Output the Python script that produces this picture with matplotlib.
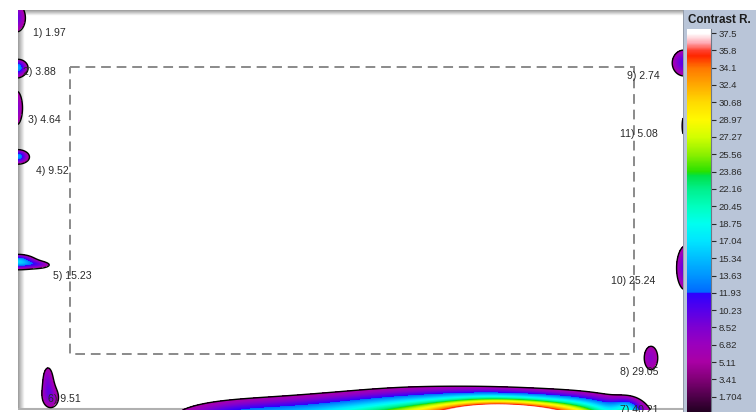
import numpy as np
import matplotlib
matplotlib.use("Agg")
import matplotlib.pyplot as plt
from matplotlib.colors import LinearSegmentedColormap
from matplotlib.patches import Rectangle

plt.rcParams['font.family'] = ['Liberation Sans', 'DejaVu Sans']

# ---- data -------------------------------------------------------------
# hotspot sources of the contrast field (image pixel coordinates)
spot_x = [16, 18, 16, 18, 18, 40, 48, 51, 230, 320, 420, 500, 575, 628, 651, 684, 686, 686]
spot_y = [18, 68, 108, 157, 262, 265, 378, 398, 418, 420, 420, 416, 418, 412, 358, 63, 268, 126]
spot_peak = [10, 14, 9, 14, 16, 7, 7, 7.5, 9, 14, 22, 40.21, 24, 10, 7.5, 10, 10, 8]
spot_sx = [8, 7, 6, 8, 12, 10, 5, 8, 45, 60, 55, 45, 42, 10, 7.5, 10, 8, 4]
spot_sy = [12, 6, 16, 5, 5, 3, 12, 10, 12, 16, 18, 13, 14, 9, 13, 11, 19, 13]

# measurement labels
label_text = ["1) 1.97", "2) 3.88", "3) 4.64", "4) 9.52", "5) 15.23", "6) 9.51",
              "7) 40.21", "8) 29.05", "9) 2.74", "10) 25.24", "11) 5.08"]
label_x = [33, 23, 28, 36, 53, 48, 620, 620, 627, 611, 620]
label_y = [33, 72, 120, 171, 276, 399, 410, 372, 76, 281, 134]

# colour-scale ticks
cbar_ticks = [37.5, 35.8, 34.1, 32.4, 30.68, 28.97, 27.27, 25.56, 23.86, 22.16, 20.45,
              18.75, 17.04, 15.34, 13.63, 11.93, 10.23, 8.52, 6.82, 5.11, 3.41, 1.704, 0.0]
cbar_labels = ["37.5", "35.8", "34.1", "32.4", "30.68", "28.97", "27.27", "25.56", "23.86",
               "22.16", "20.45", "18.75", "17.04", "15.34", "13.63", "11.93", "10.23", "8.52",
               "6.82", "5.11", "3.41", "1.704", "0.00"]
vmax = 37.5
threshold = 5.0

# region of interest
roi = (70, 67, 564, 287)

# ---- colour map ---------------------------------------------------------
stops = [
    (0.0, (30, 0, 30)), (1.704, (80, 0, 75)), (3.41, (130, 0, 120)),
    (5.11, (170, 0, 165)), (6.82, (155, 0, 190)), (8.52, (125, 0, 210)),
    (10.23, (85, 0, 235)), (11.90, (45, 0, 255)), (11.95, (0, 105, 255)),
    (13.63, (0, 150, 255)), (15.34, (0, 190, 255)), (17.04, (0, 230, 255)),
    (18.75, (0, 255, 240)), (20.45, (0, 255, 190)), (22.16, (0, 240, 140)),
    (23.5, (0, 225, 70)), (23.86, (40, 225, 0)), (25.56, (140, 240, 0)),
    (27.27, (210, 255, 0)), (28.97, (255, 250, 0)), (30.68, (255, 220, 0)),
    (32.4, (255, 170, 0)), (34.1, (255, 120, 0)), (35.3, (255, 40, 0)),
    (35.8, (255, 60, 40)), (36.6, (255, 170, 180)), (37.5, (255, 255, 255)),
]
cmap = LinearSegmentedColormap.from_list(
    "contrast", [(v / vmax, tuple(c / 255 for c in col)) for v, col in stops], N=512)

W, H = 756, 412
fig = plt.figure(figsize=(W / 100, H / 100), dpi=100)
fig.patch.set_facecolor("white")


def px_axes(x0, y0, x1, y1):
    return fig.add_axes([x0 / W, 1 - y1 / H, (x1 - x0) / W, (y1 - y0) / H])


# ---- main map ----------------------------------------------------------
X0, Y0, X1, Y1 = 18, 10, 683, 410
ax = px_axes(X0, Y0, X1, Y1)
ax.set_xlim(X0, X1)
ax.set_ylim(Y1, Y0)
ax.axis("off")
ax.add_patch(Rectangle((X0, Y0), X1 - X0, Y1 - Y0, facecolor="white", edgecolor="none", zorder=0))

# bevel shading along the top and left edges
shade = np.linspace(0.62, 1.0, 8)
ax.imshow(np.tile(shade, (2, 1)), cmap="gray", vmin=0, vmax=1, extent=(X0, X0 + 7, Y1, Y0),
          aspect="auto", zorder=0.5, interpolation="bilinear")
ax.imshow(np.tile(shade[:, None], (1, 2)), cmap="gray", vmin=0, vmax=1, extent=(X0, X1, Y0 + 6, Y0),
          aspect="auto", zorder=0.5, interpolation="bilinear")
ax.plot([X0, X1], [Y1 - 1, Y1 - 1], color="#b0b0b0", lw=1.5, zorder=0.6)

gx = np.arange(X0, X1 + 1, 1.0)
gy = np.arange(Y0, Y1 + 1, 1.0)
GX, GY = np.meshgrid(gx, gy)
field = np.zeros_like(GX)
for x, y, p, sx, sy in zip(spot_x, spot_y, spot_peak, spot_sx, spot_sy):
    field += p * np.exp(-0.5 * ((GX - x) / sx) ** 2 - 0.5 * ((GY - y) / sy) ** 2)

masked = np.ma.masked_less(field, threshold)
ax.imshow(masked, cmap=cmap, vmin=0, vmax=vmax, extent=(X0 - 0.5, X1 + 0.5, Y1 + 0.5, Y0 - 0.5),
          origin="upper", aspect="auto", interpolation="bilinear", zorder=1)
ax.contour(GX, GY, field, levels=[threshold], colors="black", linewidths=1.0, zorder=2)

ax.add_patch(Rectangle((roi[0], roi[1]), roi[2], roi[3], fill=False, edgecolor="#8a8a8a",
                       lw=1.4, linestyle=(0, (5, 3)), zorder=3))

for t, x, y in zip(label_text, label_x, label_y):
    ax.text(x, y, t, fontsize=7.6, color="#2a2a2a", ha="left", va="center", zorder=4,
            clip_on=False)

# ---- colour-scale panel ------------------------------------------------
pan = px_axes(683, 10, 756, 412)
pan.set_xlim(0, 1)
pan.set_ylim(0, 1)
pan.axis("off")
pan.add_patch(Rectangle((0, 0), 1, 1, facecolor="#b9c5d8", edgecolor="none"))
pan.plot([0.005, 0.005], [0, 1], color="#8d96a3", lw=1.2)
pan.text(5 / 73, 1 - 10 / 402, "Contrast R.", fontsize=8.4, fontweight="bold",
         color="#1c1c1c", ha="left", va="center", clip_on=True)

cb_top, cb_zero, cb_val_top = 29, 414, 33
span = (cb_zero - cb_val_top) / vmax
cax = px_axes(687, cb_top, 711, cb_zero)
cax.set_ylim(0, (cb_zero - cb_top) / span)
cax.set_xlim(0, 1)
grad = np.linspace(0, (cb_zero - cb_top) / span, 600)[:, None]
cax.imshow(grad, cmap=cmap, vmin=0, vmax=vmax, extent=(0, 1, 0, grad[-1, 0]),
           origin="lower", aspect="auto", interpolation="bilinear")
for s in cax.spines.values():
    s.set_visible(False)
cax.spines["right"].set_visible(True)
cax.spines["right"].set_color("#6f7885")
cax.set_xticks([])
cax.yaxis.tick_right()
cax.set_yticks(cbar_ticks)
cax.set_yticklabels(cbar_labels)
cax.tick_params(axis="y", length=3.5, width=0.8, color="#2a2a2a", pad=2,
                labelsize=6.8, labelcolor="#2a2a2a")

fig.savefig("out.png", dpi=100)
